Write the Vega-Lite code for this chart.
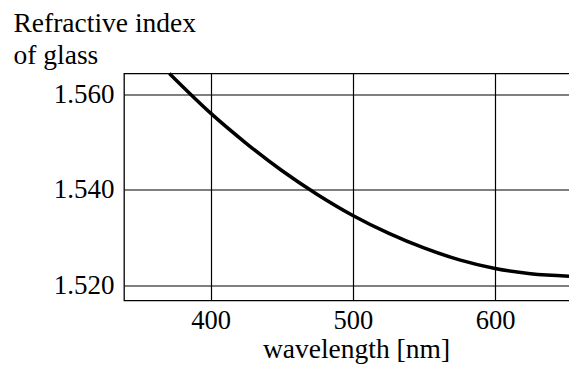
{
  "$schema": "https://vega.github.io/schema/vega-lite/v6.json",
  "width": 446,
  "height": 227,
  "autosize": {"type": "none"},
  "padding": {"left": 124, "top": 73.5, "right": 0, "bottom": 73.5},
  "background": "white",
  "config": {
    "view": {"stroke": "black", "strokeWidth": 1.3},
    "font": "Liberation Serif"
  },
  "data": {
    "values": [
      {"wavelength": 371, "n": 1.5643},
      {"wavelength": 400, "n": 1.5560},
      {"wavelength": 425, "n": 1.5497},
      {"wavelength": 450, "n": 1.5440},
      {"wavelength": 475, "n": 1.5390},
      {"wavelength": 500, "n": 1.5346},
      {"wavelength": 525, "n": 1.5309},
      {"wavelength": 550, "n": 1.5278},
      {"wavelength": 575, "n": 1.5253},
      {"wavelength": 600, "n": 1.5235},
      {"wavelength": 625, "n": 1.5224},
      {"wavelength": 652, "n": 1.5219}
    ]
  },
  "mark": {"type": "line", "color": "black", "strokeWidth": 3.5, "interpolate": "monotone"},
  "encoding": {
    "x": {
      "field": "wavelength",
      "type": "quantitative",
      "scale": {"domain": [339.1, 652.7], "nice": false, "zero": false},
      "axis": {
        "values": [400, 500, 600],
        "grid": true,
        "gridColor": "black",
        "gridOpacity": 1,
        "gridWidth": 1.2,
        "ticks": false,
        "domain": false,
        "labelFont": "Liberation Serif",
        "labelFontSize": 26.5,
        "labelColor": "black",
        "labelPadding": 7,
        "title": "wavelength [nm]",
        "titleFont": "Liberation Serif",
        "titleFontSize": 27.5,
        "titleFontWeight": "normal",
        "titleColor": "black",
        "titleX": 232,
        "titleY": 57,
        "titleAlign": "center",
        "titleBaseline": "alphabetic"
      }
    },
    "y": {
      "field": "n",
      "type": "quantitative",
      "scale": {"domain": [1.5168, 1.5643], "nice": false, "zero": false},
      "axis": {
        "values": [1.52, 1.54, 1.56],
        "format": ".3f",
        "grid": true,
        "gridColor": "black",
        "gridOpacity": 1,
        "gridWidth": 1.2,
        "ticks": false,
        "domain": false,
        "labelFont": "Liberation Serif",
        "labelFontSize": 27,
        "labelColor": "black",
        "labelPadding": 10,
        "title": ["Refractive index", "of glass"],
        "titleFont": "Liberation Serif",
        "titleFontSize": 27.5,
        "titleFontWeight": "normal",
        "titleColor": "black",
        "titleAngle": 0,
        "titleAlign": "left",
        "titleBaseline": "alphabetic",
        "titleLineHeight": 31.6,
        "titleX": -111,
        "titleY": -41.8
      }
    }
  }
}
